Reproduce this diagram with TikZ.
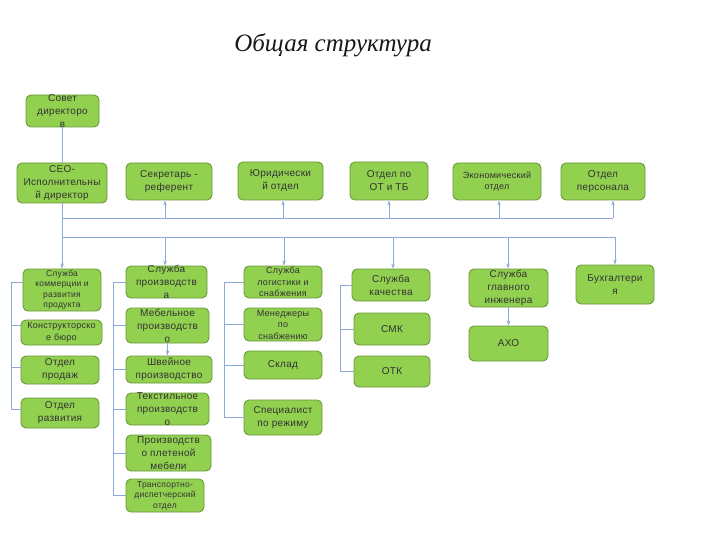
\documentclass[tikz,border=0pt]{standalone}
\usepackage{fontspec}
\setmainfont{Liberation Sans}[LetterSpace=3]
\newfontfamily\titlefont{Liberation Serif}
\usetikzlibrary{arrows.meta}
\definecolor{boxfill}{HTML}{92D050}
\definecolor{boxline}{HTML}{6A9A3A}
\definecolor{conn}{HTML}{8EA8D8}
\tikzset{
  orgbox/.style={draw=boxline, fill=boxfill, rounded corners=5pt, line width=0.9pt, inner sep=0pt},
  lbl/.style={align=center, text=black!80, font=\fontsize{10}{13}\selectfont, inner sep=0pt},
  lblmid/.style={align=center, text=black!80, font=\fontsize{9}{11.5}\selectfont, inner sep=0pt},
  lblsmall/.style={align=center, text=black!80, font=\fontsize{8.5}{10.5}\selectfont, inner sep=0pt},
  link/.style={draw=conn, line width=0.8pt},
  arr/.style={draw=conn, line width=0.8pt, -{Stealth[length=5pt,width=3.5pt]}},
}
\newcommand\orgnode[6]{%
  \node[orgbox, minimum width=#3pt, minimum height=#4pt] (#1) at (#2) {};
  \node[#5] (#1-t) at (#1.center) {#6};}
\begin{document}
\begin{tikzpicture}[x=1pt,y=-1pt]
\fill[white] (0,0) rectangle (720,540);
\useasboundingbox (0,0) rectangle (720,540);

\node[font=\titlefont\itshape\fontsize{25}{30}\selectfont, text=black!90] (title) at (333,45) {Общая структура};

% top rows
\orgnode{sov}{62.5,111}{73}{32}{lbl}{Совет\\директоро\\в}
\orgnode{ceo}{62,183}{90}{40}{lbl}{CEO-\\Исполнительны\\й директор}
\orgnode{sek}{169,181.5}{86}{37}{lbl}{Секретарь -\\референт}
\orgnode{yur}{280.5,181}{85}{38}{lbl}{Юридически\\й отдел}
\orgnode{ot}{389,181}{78}{38}{lbl}{Отдел по\\ОТ и ТБ}
\orgnode{eko}{497,181.5}{88}{37}{lblmid}{Экономический\\отдел}
\orgnode{pers}{603,181.5}{84}{37}{lbl}{Отдел\\персонала}

% column 1
\orgnode{kom}{62,290}{78}{42}{lblsmall}{Служба\\коммерции и\\развития\\продукта}
\orgnode{kb}{61.5,332.5}{81}{25}{lblmid}{Конструкторско\\е бюро}
\orgnode{prod}{60,370}{78}{28}{lbl}{Отдел\\продаж}
\orgnode{razv}{60,413}{78}{30}{lbl}{Отдел\\развития}

% column 2
\orgnode{sp}{166.5,282}{81}{32}{lbl}{Служба\\производств\\а}
\orgnode{meb}{167.5,325.5}{83}{35}{lbl}{Мебельное\\производств\\о}
\orgnode{shv}{169,369.5}{86}{27}{lbl}{Швейное\\производство}
\orgnode{tex}{167.5,409}{83}{32}{lbl}{Текстильное\\производств\\о}
\orgnode{plet}{168.5,453}{85}{36}{lbl}{Производств\\о плетеной\\мебели}
\orgnode{trans}{165,495.5}{78}{33}{lblsmall}{Транспортно-\\диспетчерский\\отдел}

% column 3
\orgnode{log}{283,282}{78}{32}{lblmid}{Служба\\логистики и\\снабжения}
\orgnode{men}{283,324.5}{78}{33}{lblmid}{Менеджеры\\по\\снабжению}
\orgnode{skl}{283,365}{78}{28}{lbl}{Склад}
\orgnode{spec}{283,417.5}{78}{35}{lbl}{Специалист\\по режиму}

% column 4
\orgnode{kach}{391,285}{78}{32}{lbl}{Служба\\качества}
\orgnode{smk}{392,329}{76}{32}{lbl}{СМК}
\orgnode{otk}{392,371.5}{76}{31}{lbl}{ОТК}

% column 5, 6
\orgnode{gi}{508.5,288}{79}{38}{lbl}{Служба\\главного\\инженера}
\orgnode{axo}{508.5,343.5}{79}{35}{lbl}{АХО}
\orgnode{buh}{615,284.5}{78}{39}{lbl}{Бухгалтери\\я}

% main connectors
\coordinate (busA) at (62,218);
\coordinate (busAend) at (613,218);
\coordinate (busB) at (62,237);
\coordinate (busBend) at (615,237);
\draw[link] (ceo.north) -- (ceo.north |- sov.south);
\draw[link] (ceo.south) -- (busB);
\draw[link] (busA) -- (busAend);
\draw[link] (busB) -- (busBend);

\coordinate (uA) at (165,218);
\coordinate (uB) at (283,218);
\coordinate (uC) at (389,218);
\coordinate (uD) at (499,218);
\draw[arr] (uA) -- (uA |- sek.south);
\draw[arr] (uB) -- (uB |- yur.south);
\draw[arr] (uC) -- (uC |- ot.south);
\draw[arr] (uD) -- (uD |- eko.south);
\draw[arr] (busAend) -- (busAend |- pers.south);

\coordinate (dA) at (165,237);
\coordinate (dB) at (284,237);
\coordinate (dC) at (393,237);
\coordinate (dD) at (508,237);
\draw[arr] (busB) -- (busB |- kom.north);
\draw[arr] (dA) -- (dA |- sp.north);
\draw[arr] (dB) -- (dB |- log.north);
\draw[arr] (dC) -- (dC |- kach.north);
\draw[arr] (dD) -- (dD |- gi.north);
\draw[arr] (busBend) -- (busBend |- buh.north);

% column 1 bracket
\coordinate (c1a) at (11,282);
\coordinate (c1b) at (11,325);
\coordinate (c1c) at (11,367);
\coordinate (c1d) at (11,409);
\draw[link] (kom.west |- c1a) -- (c1a) -- (c1d) -- (razv.west |- c1d);
\draw[link] (c1b) -- (kb.west |- c1b);
\draw[link] (c1c) -- (prod.west |- c1c);

% column 2 bracket
\coordinate (c2a) at (113,0);
\draw[link] (sp.west) -- (c2a |- sp.west) -- (c2a |- trans.west) -- (trans.west);
\draw[link] (c2a |- meb.west) -- (meb.west);
\draw[link] (c2a |- shv.west) -- (shv.west);
\draw[link] (c2a |- tex.west) -- (tex.west);
\draw[link] (c2a |- plet.west) -- (plet.west);

% column 3 bracket
\coordinate (c3a) at (224,0);
\draw[link] (log.west) -- (c3a |- log.west) -- (c3a |- spec.west) -- (spec.west);
\draw[link] (c3a |- men.west) -- (men.west);
\draw[link] (c3a |- skl.west) -- (skl.west);

% column 4 bracket
\coordinate (c4a) at (340,0);
\draw[link] (kach.west) -- (c4a |- kach.west) -- (c4a |- otk.west) -- (otk.west);
\draw[link] (c4a |- smk.west) -- (smk.west);

% inner arrows
\draw[arr] (meb.south) -- (meb.south |- shv.north);
\draw[arr] (gi.south) -- (gi.south |- axo.north);
\end{tikzpicture}
\end{document}
